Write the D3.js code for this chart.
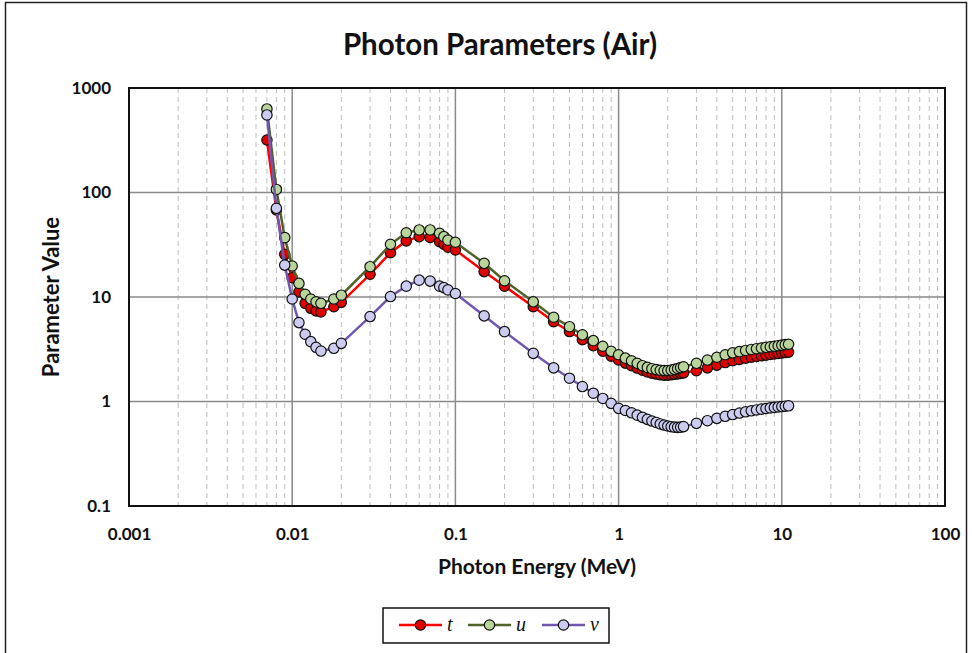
<!DOCTYPE html>
<html>
<head>
<meta charset="utf-8">
<script src="https://cdn.jsdelivr.net/npm/d3@7/dist/d3.min.js"></script>
<style>
  html, body { margin: 0; padding: 0; background: #fff; }
  svg { display: block; }
</style>
</head>
<body>
<svg id="chart" width="972" height="653"></svg>
<script>
// ---- data ----
const energies = [0.007, 0.008, 0.009, 0.01, 0.011, 0.012, 0.013, 0.014, 0.015, 0.018, 0.02,
  0.03, 0.04, 0.05, 0.06, 0.07, 0.08, 0.085, 0.09, 0.1, 0.15, 0.2,
  0.3, 0.4, 0.5, 0.6, 0.7, 0.8, 0.9, 1.0,
  1.1, 1.2, 1.3, 1.4, 1.5, 1.6, 1.7, 1.8, 1.9, 2.0, 2.1, 2.2, 2.3, 2.4, 2.5,
  3.0, 3.5, 4.0, 4.5, 5.0, 5.5, 6.0, 6.5, 7.0, 7.5, 8.0, 8.5, 9.0, 9.5, 10.0, 10.5, 11.0];

const tValues = [318, 68, 25.6, 15.3, 11.2, 8.7, 7.8, 7.35, 7.2, 8.07, 8.9,
  16.5, 26.5, 34.4, 37.8, 37.2, 33.8, 32, 30, 28.2, 17.5, 12.7,
  8.07, 5.8, 4.67, 3.9, 3.42, 3.03, 2.72, 2.5,
  2.33, 2.2, 2.09, 1.99, 1.92, 1.87, 1.83, 1.8, 1.79, 1.79, 1.8, 1.82, 1.84, 1.86, 1.88,
  1.97, 2.1, 2.23, 2.36, 2.46, 2.53, 2.6, 2.65, 2.7, 2.74, 2.78, 2.82, 2.85, 2.88, 2.91, 2.94, 2.97];

const uValues = [630, 107, 37, 19.8, 13.5, 10.6, 9.57, 9.0, 8.7, 9.57, 10.4,
  19.5, 31.9, 41.2, 43.8, 43.8, 40.7, 37.8, 35, 33.4, 21, 14.3,
  9.0, 6.4, 5.2, 4.35, 3.82, 3.38, 3.02, 2.8,
  2.6, 2.45, 2.32, 2.2, 2.12, 2.06, 2.02, 1.99, 1.98, 1.98, 2.0, 2.03, 2.07, 2.11, 2.15,
  2.32, 2.49, 2.65, 2.8, 2.92, 3.0, 3.08, 3.15, 3.2, 3.25, 3.3, 3.34, 3.38, 3.42, 3.46, 3.5, 3.53];

const vValues = [552, 70.6, 20.2, 9.57, 5.69, 4.4, 3.74, 3.3, 3.04, 3.23, 3.6,
  6.5, 10.1, 12.7, 14.5, 14.2, 12.7, 12.3, 11.7, 10.8, 6.6, 4.66,
  2.89, 2.1, 1.67, 1.39, 1.2, 1.07, 0.96, 0.86,
  0.82, 0.78, 0.74, 0.705, 0.675, 0.65, 0.63, 0.61, 0.595, 0.583, 0.574, 0.568, 0.566, 0.568, 0.575,
  0.618, 0.655, 0.69, 0.722, 0.75, 0.775, 0.797, 0.815, 0.83, 0.845, 0.857, 0.868, 0.878, 0.887, 0.895, 0.902, 0.91];

const xTickValues = [0.001, 0.01, 0.1, 1, 10, 100];
const xTickLabels = ["0.001", "0.01", "0.1", "1", "10", "100"];
const yTickValues = [0.1, 1, 10, 100, 1000];
const yTickLabels = ["0.1", "1", "10", "100", "1000"];
const seriesNames = ["t", "u", "v"];

const chartTitle = "Photon Parameters (Air)";
const xTitle = "Photon Energy (MeV)";
const yTitle = "Parameter Value";

// ---- styles ----
const styles = [
  { line: "#ff0000", fill: "#e00000" },
  { line: "#4f6228", fill: "#b9d59c" },
  { line: "#7056b0", fill: "#ccccf0" }
];
const sans = "Lato, 'Open Sans', sans-serif";
const serif = "'Liberation Serif', 'DejaVu Serif', serif";

const svg = d3.select("#chart");
const plot = { left: 129, right: 945, top: 88, bottom: 506 };

const x = d3.scaleLog().domain([0.001, 100]).range([plot.left, plot.right]);
const y = d3.scaleLog().domain([0.1, 1000]).range([plot.bottom, plot.top]);

// outer frame
svg.append("rect").attr("x", 5.5).attr("y", 2.5).attr("width", 961).attr("height", 700)
  .attr("fill", "none").attr("stroke", "#222").attr("stroke-width", 1.5);

// minor x grid (dashed)
const minorX = [];
for (let d = -3; d < 2; d++) for (let k = 2; k <= 9; k++) minorX.push(k * Math.pow(10, d));
svg.append("g").selectAll("line").data(minorX).join("line")
  .attr("x1", d => x(d)).attr("x2", d => x(d))
  .attr("y1", plot.top).attr("y2", plot.bottom)
  .attr("stroke", "#bdbdbd").attr("stroke-width", 1).attr("stroke-dasharray", "5,4");

// major grid
svg.append("g").selectAll("line").data(xTickValues.slice(1, -1)).join("line")
  .attr("x1", d => x(d)).attr("x2", d => x(d))
  .attr("y1", plot.top).attr("y2", plot.bottom)
  .attr("stroke", "#8a8a8a").attr("stroke-width", 1.5);
svg.append("g").selectAll("line").data(yTickValues.slice(1, -1)).join("line")
  .attr("y1", d => y(d)).attr("y2", d => y(d))
  .attr("x1", plot.left).attr("x2", plot.right)
  .attr("stroke", "#8a8a8a").attr("stroke-width", 1.5);

// plot frame
svg.append("rect").attr("x", plot.left).attr("y", plot.top)
  .attr("width", plot.right - plot.left).attr("height", plot.bottom - plot.top)
  .attr("fill", "none").attr("stroke", "#111").attr("stroke-width", 2);

// axes (labels only)
const xAxis = d3.axisBottom(x).tickValues(xTickValues)
  .tickFormat((d, i) => xTickLabels[i]).tickSize(0).tickPadding(22);
const gx = svg.append("g").attr("transform", `translate(0,${plot.bottom})`).call(xAxis);
gx.select(".domain").remove();
gx.selectAll("text").style("font-size", "17px").style("font-weight", "bold").attr("fill", "#111")
  .style("font-family", sans);

const yAxis = d3.axisLeft(y).tickValues(yTickValues)
  .tickFormat((d, i) => yTickLabels[i]).tickSize(0).tickPadding(18);
const gy = svg.append("g").attr("transform", `translate(${plot.left},0)`).call(yAxis);
gy.select(".domain").remove();
gy.selectAll("text").style("font-size", "17px").style("font-weight", "bold").attr("fill", "#111")
  .style("font-family", sans);

// titles
svg.append("text").attr("x", 500).attr("y", 55).attr("text-anchor", "middle")
  .style("font-family", sans).style("font-size", "29.5px").style("font-weight", "bold")
  .attr("fill", "#111").text(chartTitle);
svg.append("text").attr("x", 537).attr("y", 574).attr("text-anchor", "middle")
  .style("font-family", sans).style("font-size", "21px").style("font-weight", "bold")
  .attr("fill", "#111").text(xTitle);
svg.append("text").attr("transform", "translate(59,297) rotate(-90)").attr("text-anchor", "middle")
  .style("font-family", sans).style("font-size", "22px").style("font-weight", "bold")
  .attr("fill", "#111").text(yTitle);

// series
const allSeries = [tValues, uValues, vValues];
const line = d3.line().x(d => x(d[0])).y(d => y(d[1]));
allSeries.forEach((vals, i) => {
  const pts = energies.map((e, j) => [e, vals[j]]);
  const g = svg.append("g");
  g.append("path").attr("d", line(pts)).attr("fill", "none")
    .attr("stroke", styles[i].line).attr("stroke-width", 2.5);
  g.selectAll("circle").data(pts).join("circle")
    .attr("cx", d => x(d[0])).attr("cy", d => y(d[1])).attr("r", 5.2)
    .attr("fill", styles[i].fill).attr("stroke", "#111").attr("stroke-width", 1.2);
});

// legend
const lg = svg.append("g");
lg.append("rect").attr("x", 383).attr("y", 608).attr("width", 226).attr("height", 35)
  .attr("fill", "#fff").attr("stroke", "#111").attr("stroke-width", 1.5);
const legendX = [399, 468, 542];
seriesNames.forEach((name, i) => {
  const lx = legendX[i];
  lg.append("line").attr("x1", lx).attr("x2", lx + 43).attr("y1", 625).attr("y2", 625)
    .attr("stroke", styles[i].line).attr("stroke-width", 2.5);
  lg.append("circle").attr("cx", lx + 21.5).attr("cy", 625).attr("r", 5.2)
    .attr("fill", styles[i].fill).attr("stroke", "#111").attr("stroke-width", 1.2);
  lg.append("text").attr("x", lx + 48).attr("y", 631)
    .style("font-family", serif).style("font-style", "italic")
    .style("font-size", "20px").attr("fill", "#111").text(name);
});
</script>
</body>
</html>
